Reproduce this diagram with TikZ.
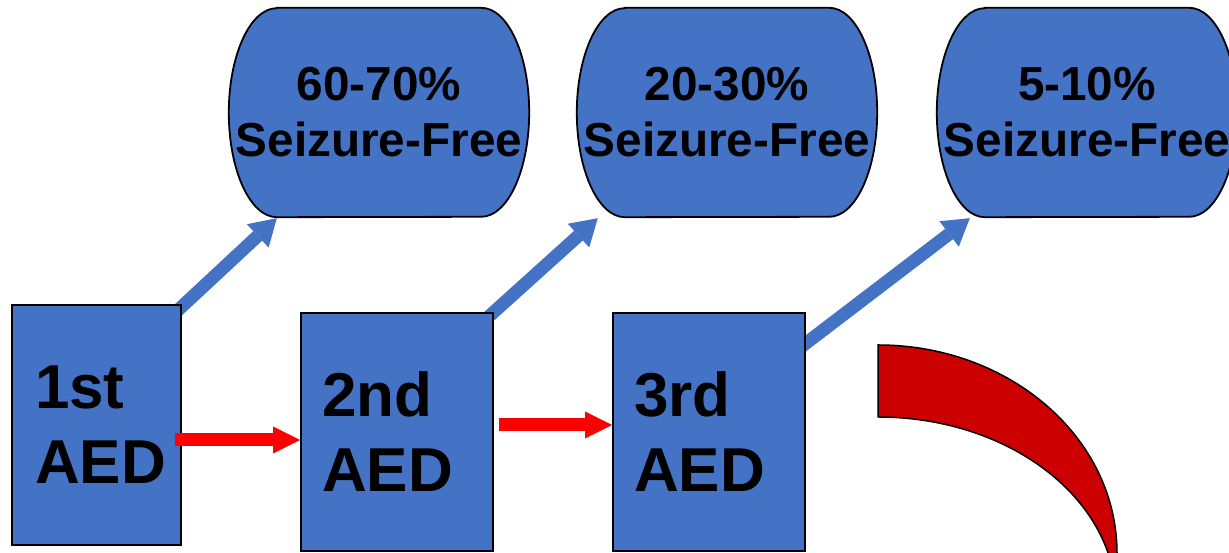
\documentclass[tikz,border=0pt]{standalone}
\usepackage{fontspec}
\setmainfont{Liberation Sans}
\usetikzlibrary{arrows.meta,calc,backgrounds}
\definecolor{aedblue}{HTML}{4472C4}
\definecolor{arcred}{HTML}{CC0000}
\begin{document}
\begin{tikzpicture}[x=1pt,y=1pt,
  box/.style={draw=black,line width=1.8pt,fill=aedblue,minimum height=238pt,
    inner xsep=21pt,text width=150pt,align=left,
    font=\fontsize{62}{75}\selectfont\bfseries},
  term/.style={minimum width=300pt,minimum height=209pt,inner sep=0pt,align=center,
    font=\fontsize{47.7}{56}\selectfont\bfseries},
  termline/.style={draw=black,line width=1.8pt,fill=aedblue},
  bluearrow/.style={draw=aedblue,line width=13pt,
    -{Triangle[length=26pt,width=32pt,line width=0pt]}},
  redarrow/.style={draw=red,line width=13pt,
    -{Triangle[length=27pt,width=27pt,line width=0pt]}},
  arcshape/.style={draw=black,line width=1.5pt,fill=arcred}
]
\useasboundingbox (0,0) rectangle (1229,553);

% boxes
\node[box,minimum height=240pt,inner xsep=23pt,text width=123pt] (b1) at (96.5,128) {1st\\AED};
\node[box] (b2) at (397,121) {2nd\\AED};
\node[box] (b3) at (709,121) {3rd\\AED};

% terminators (text)
\node[term] (t1) at (379,440.5) {60-70\%\\Seizure-Free};
\node[term] (t2) at (727,440.5) {20-30\%\\Seizure-Free};
\node[term] (t3) at (1087,440.5) {5-10\%\\Seizure-Free};

\begin{scope}[on background layer]
  \foreach \t in {t1,t2,t3}{
    \draw[termline] ($(\t.north west)+(48,0)$) -- ($(\t.north east)+(-48,0)$)
      arc[start angle=90,end angle=-90,x radius=48pt,y radius=104.5pt]
      -- ($(\t.south west)+(48,0)$)
      arc[start angle=270,end angle=90,x radius=48pt,y radius=104.5pt] -- cycle;
  }
  \draw[bluearrow] ($(b1.north east)+(-6,-8)$) -- ($(t1.south west)+(48,-1)$);
  \draw[bluearrow] ($(b2.north east)+(-9,-8)$) -- ($(t2.south west)+(21,-1)$);
  \draw[bluearrow] ($(b3.north east)+(-5,-35)$) -- ($(t3.south west)+(33,-1)$);
\end{scope}

% red arrows
\draw[redarrow] ($(b1.east)+(-7,-15)$) coordinate (r1s) -- (r1s -| b2.west);
\draw[redarrow] ($(b2.east)+(5,7)$) coordinate (r2s) -- (r2s -| b3.west);

% red curved block arc
\draw[arcshape] (878,208) arc[start angle=90,end angle=0,x radius=239pt,y radius=208pt]
  -- (1117,-47) -- (1116,-47)
  arc[start angle=0,end angle=90,x radius=238pt,y radius=183pt] -- cycle;
\end{tikzpicture}
\end{document}
